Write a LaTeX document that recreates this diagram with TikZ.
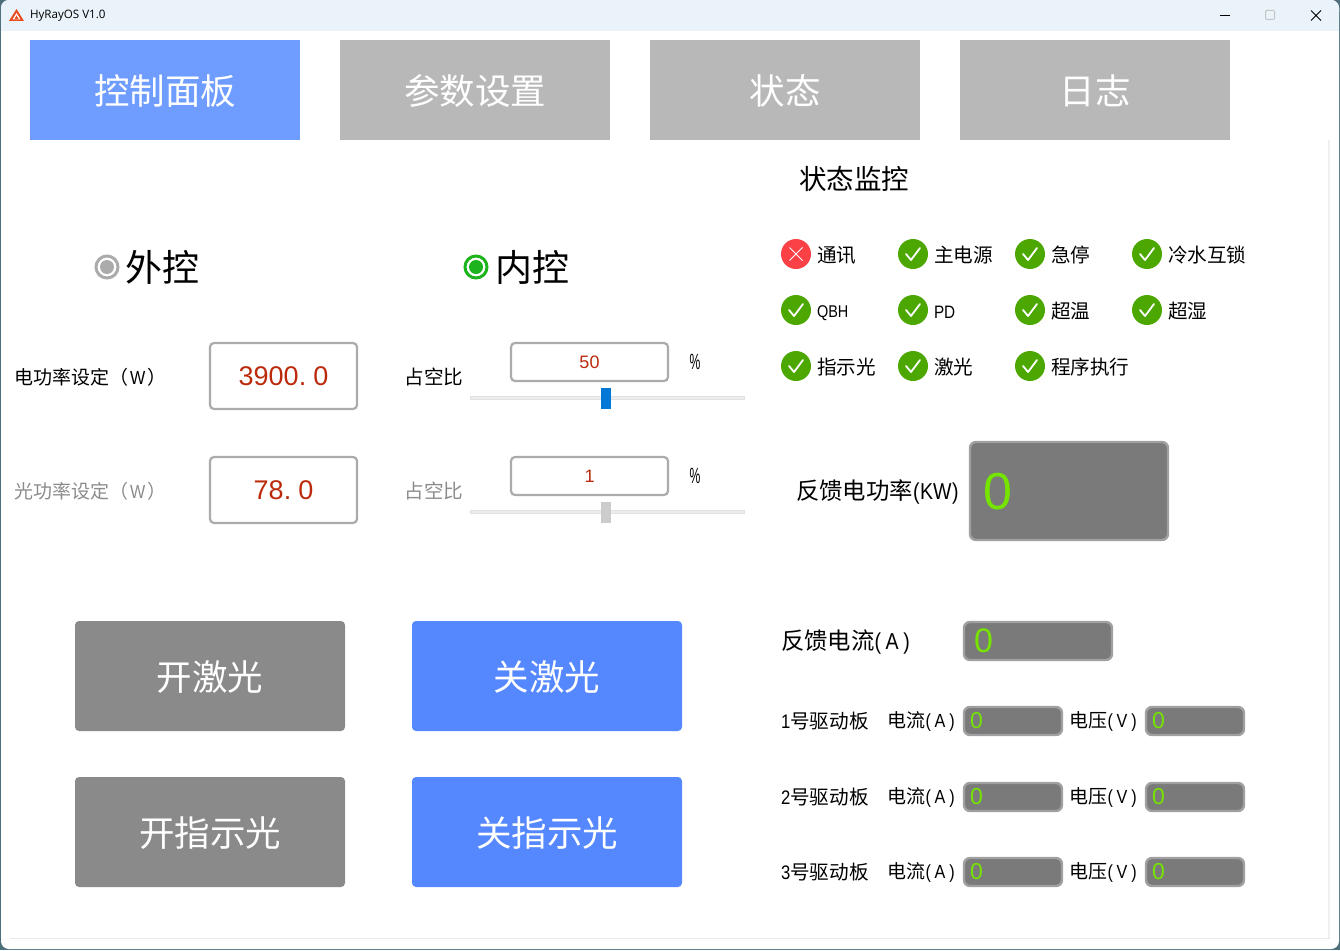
\documentclass[tikz,border=0pt]{standalone}
\usepackage{fontspec}
\setmainfont{Noto Sans CJK SC}
\newfontfamily\latf[FakeStretch=0.85]{Liberation Sans}
\newfontfamily\parf[FakeStretch=0.85,LetterSpace=20]{Liberation Sans}
\newfontfamily\numf{Liberation Sans}
\newfontfamily\titlef{Open Sans}
\newcommand{\fsz}[1]{\fontsize{#1}{#1}\selectfont}

\definecolor{tabblue}{HTML}{6E9CFF}
\definecolor{tabgray}{HTML}{B8B8B8}
\definecolor{btngray}{HTML}{8A8A8A}
\definecolor{btnblue}{HTML}{5588FF}
\definecolor{okgreen}{HTML}{4CA800}
\definecolor{badred}{HTML}{FB4146}
\definecolor{lcdgray}{HTML}{7A7A7A}
\definecolor{lcdedge}{HTML}{A0A0A0}
\definecolor{lcdtext}{HTML}{74E400}
\definecolor{valred}{HTML}{BC2A0C}
\definecolor{boxedge}{HTML}{ABABAB}
\definecolor{barcol}{HTML}{EAF3F9}
\definecolor{outcol}{HTML}{4D707B}
\definecolor{logocol}{HTML}{E84C1E}
\definecolor{trackcol}{HTML}{E0E2E2}
\definecolor{thumbblue}{HTML}{0078D7}
\definecolor{thumbgray}{HTML}{CCCCCC}
\definecolor{dimtext}{HTML}{8C8C8C}
\definecolor{radiogreen}{HTML}{1DB31D}

\begin{document}
\begin{tikzpicture}[x=1pt,y=-1pt]
    \tikzset{
        every node/.style={inner sep=0pt,outer sep=0pt},
        tabbox/.style={minimum width=270pt,minimum height=100pt,text=white,
            font=\fsz{35.5},text height=32pt,text depth=4pt},
        btnbox/.style={rounded corners=4pt,minimum width=270pt,
            minimum height=110pt,text=white,font=\fsz{35.5},
            text height=32pt,text depth=4pt},
        inbox/.style={draw=boxedge,line width=2.2pt,rounded corners=4pt,
            fill=white,text=valred},
        lcd/.style={draw=lcdedge,line width=2.4pt,rounded corners=6pt,
            fill=lcdgray},
        lcdval/.style={text=lcdtext,anchor=west},
        lbl/.style={font=\fsz{19.6},anchor=west},
        led/.style={circle,minimum size=30pt,fill=okgreen},
        tick/.style={white,line width=1.8pt,line cap=round,line join=round},
        radio/.style={circle,minimum size=22pt,draw=#1,line width=3pt,fill=white},
        radiodot/.style={circle,minimum size=14pt,fill=#1},
        pctmark/.style={font=\numf\fsz{22},xscale=.55},
        slidetrack/.style={fill=trackcol!60,draw=trackcol,line width=1pt}
    }
    \useasboundingbox (0,0) rectangle (1340,950);

    % window
    \fill[outcol] (0,0) rectangle (1340,950);
    \fill[white,rounded corners=8pt] (1,0) rectangle (1339,949);
    \fill[barcol,rounded corners=8pt] (1,0) rectangle (1339,20);
    \fill[barcol] (1,10) rectangle (1339,31);
    \draw[trackcol!70,line width=1.5pt] (10,938.5) -- (1330,938.5);
    \draw[trackcol!50,line width=2pt] (1329,140) -- (1329,938);

    % title bar
    \fill[logocol] (16.5,9) -- (24,21) -- (9,21) -- cycle;
    \fill[white] (16.5,13) -- (20.5,19.5) -- (12.5,19.5) -- cycle;
    \fill[logocol] (16.5,15.5) -- (18.5,19) -- (14.5,19) -- cycle;
    \node[anchor=west,font=\titlef\fsz{11.6}] (apptitle) at (30,16) {HyRayOS V1.0};
    \draw[black,line width=1pt] (1220,15.5) -- (1230,15.5);
    \draw[boxedge!70,line width=1pt,rounded corners=1pt] (1265.5,10.5) rectangle (1274.5,19.5);
    \draw[black,line width=1pt] (1311,10.5) -- (1321,20.5) (1321,10.5) -- (1311,20.5);

    % tabs
    \node[tabbox,fill=tabblue] (tabctrl) at (165,90) {控制面板};
    \node[tabbox,fill=tabgray] (tabparam) at (475,90) {参数设置};
    \node[tabbox,fill=tabgray] (tabstate) at (785,90) {状态};
    \node[tabbox,fill=tabgray] (tablog) at (1095,90) {日志};

    % mode selection
    \node[radio=boxedge] (radioext) at (107,267) {};
    \node[radiodot=boxedge] (dotext) at (107,267) {};
    \node[anchor=west,font=\fsz{37}] (lblext) at (125,267) {外控};
    \node[radio=radiogreen] (radioint) at (476,267) {};
    \node[radiodot=radiogreen] (dotint) at (476,267) {};
    \node[anchor=west,font=\fsz{37}] (lblint) at (495,267) {内控};

    % power settings
    \node[lbl,font=\fsz{19}] (lblepow) at (14,377) {电功率设定（\kern2pt{\latf W}\kern2pt）};
    \node[lbl,font=\fsz{19},text=dimtext] (lbllpow) at (14,491) {光功率设定（\kern2pt{\latf W}\kern2pt）};
    \node[inbox,minimum width=147pt,minimum height=66pt,font=\numf\fsz{27}] (valepow)
        at (283.5,376) {3900.\hspace{7pt}0};
    \node[inbox,minimum width=147pt,minimum height=66pt,font=\numf\fsz{27}] (vallpow)
        at (283.5,490) {78.\hspace{7pt}0};

    % duty cycle
    \node[lbl] (lblduty) at (404.5,377) {占空比};
    \node[lbl,text=dimtext] (lblduty2) at (404.5,491) {占空比};
    \node[inbox,minimum width=157pt,minimum height=38pt,font=\numf\fsz{18}] (valduty)
        at (589.5,362) {50};
    \node[inbox,minimum width=157pt,minimum height=38pt,font=\numf\fsz{18}] (valduty2)
        at (589.5,476) {1};
    \node[pctmark] (pct) at (695,362) {\%};
    \node[pctmark] (pct2) at (695,476) {\%};
    \filldraw[slidetrack] (470.5,396.5) rectangle (744.5,399.5);
    \fill[thumbblue] (601,388) rectangle (611,409);
    \filldraw[slidetrack] (470.5,510.5) rectangle (744.5,513.5);
    \fill[thumbgray] (601,502) rectangle (611,523);

    % action buttons
    \node[btnbox,fill=btngray] (btnlaseron) at (210,676) {开激光};
    \node[btnbox,fill=btnblue] (btnlaseroff) at (547,676) {关激光};
    \node[btnbox,fill=btngray] (btnpiloton) at (210,832) {开指示光};
    \node[btnbox,fill=btnblue] (btnpilotoff) at (547,832) {关指示光};

    % status monitor
    \node[font=\fsz{27.5}] (lblmonitor) at (854,179) {状态监控};
    \node[led,fill=badred] (ledcomm) at (796,254) {};
    \draw[white,line width=1pt] ([shift={(-6.5,-6.5)}]ledcomm.center) -- ([shift={(6.5,6.5)}]ledcomm.center)
        ([shift={(6.5,-6.5)}]ledcomm.center) -- ([shift={(-6.5,6.5)}]ledcomm.center);
    \node[lbl] (txtcomm) at (817,255) {通讯};
    \foreach \nm/\x/\y/\txt in {
        power/913/254/主电源, estop/1030/254/急停, water/1147/254/冷水互锁,
        qbh/796/310/{{\vphantom{通}\latf\fsz{17}QBH}}, pd/913/310/{{\vphantom{通}\latf\fsz{18}PD}},
        temp/1030/310/超温, humid/1147/310/超湿,
        pilot/796/366/指示光, laser/913/366/激光, prog/1030/366/程序执行} {
        \node[led] (led\nm) at (\x,\y) {};
        \draw[tick] ([shift={(-7,0)}]led\nm.center) -- ([shift={(-2,6)}]led\nm.center)
            -- ([shift={(7,-6)}]led\nm.center);
        \node[lbl] (txt\nm) at (\x+21,\y+1) {\txt};
    }

    % feedback
    \node[anchor=west,font=\fsz{23.4}] (lblfbpow) at (796,492)
        {反馈电功率{\latf\fsz{23}(\kern.5pt KW\kern.5pt)}};
    \node[lcd,minimum width=198pt,minimum height=98pt] (lcdpow) at (1069,491) {};
    \node[lcdval,font=\numf\fsz{52}] (valfbpow) at (983,492) {0};
    \node[anchor=west,font=\fsz{23.4}] (lblfbcur) at (781,642)
        {反馈电流{\parf\fsz{23}(A)}};
    \node[lcd,minimum width=148pt,minimum height=38pt] (lcdcur) at (1038,641) {};
    \node[lcdval,font=\numf\fsz{34}] (valfbcur) at (974,641) {0};

    % driver boards
    \foreach \n/\y in {1/721,2/797,3/872} {
        \node[lbl] (lblboard\n) at (781,\y+.5) {{\latf\n}号驱动板};
        \node[lbl,font=\fsz{19}] (lblcur\n) at (887.5,\y+.5) {电流{\parf\fsz{19}(A)}};
        \node[lcd,minimum width=98pt,minimum height=28pt] (lcdcur\n) at (1013,\y) {};
        \node[lcdval,font=\numf\fsz{23}] (valcur\n) at (970,\y) {0};
        \node[lbl,font=\fsz{19}] (lblvol\n) at (1069.5,\y+.5) {电压{\parf\fsz{19}(V)}};
        \node[lcd,minimum width=98pt,minimum height=28pt] (lcdvol\n) at (1195,\y) {};
        \node[lcdval,font=\numf\fsz{23}] (valvol\n) at (1152,\y) {0};
    }
\end{tikzpicture}
\end{document}
